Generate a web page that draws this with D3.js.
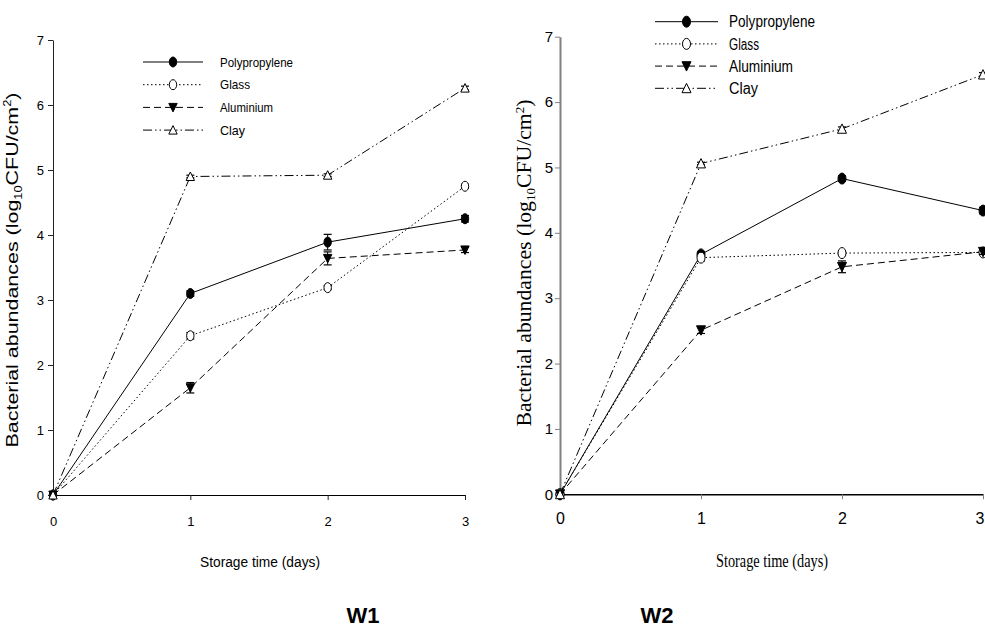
<!DOCTYPE html>
<html>
<head>
<meta charset="utf-8">
<script src="https://cdn.jsdelivr.net/npm/d3@7/dist/d3.min.js"></script>
<style>
  body { margin: 0; background: #fff; }
  svg { display: block; }
</style>
</head>
<body>
<script>
// chart data
var days = [0, 1, 2, 3];
var yTicks = [0, 1, 2, 3, 4, 5, 6, 7];
var materials = ["Polypropylene", "Glass", "Aluminium", "Clay"];

// W1 means and error bars
var w1Polypropylene = [0, 3.10, 3.89, 4.25];
var w1Glass         = [0, 2.45, 3.19, 4.75];
var w1Aluminium     = [0, 1.65, 3.64, 3.77];
var w1Clay          = [0, 4.90, 4.92, 6.26];
var w1PolypropyleneErr = [0, 0.04, 0.12, 0.05];
var w1GlassErr         = [0, 0.05, 0.03, 0.03];
var w1AluminiumErr     = [0, 0.08, 0.10, 0.04];
var w1ClayErr          = [0, 0.02, 0.02, 0.03];

// W2 means and error bars
var w2Polypropylene = [0, 3.67, 4.83, 4.34];
var w2Glass         = [0, 3.62, 3.69, 3.70];
var w2Aluminium     = [0, 2.51, 3.48, 3.71];
var w2Clay          = [0, 5.06, 5.59, 6.42];
var w2PolypropyleneErr = [0, 0.04, 0.04, 0.05];
var w2GlassErr         = [0, 0.05, 0.03, 0.03];
var w2AluminiumErr     = [0, 0.05, 0.09, 0.04];
var w2ClayErr          = [0, 0.02, 0.03, 0.03];

var width = 985, height = 628;

// line dash + marker per material
var style = {
  "Polypropylene": { dash: null,          marker: "circle",   fill: "#000" },
  "Glass":         { dash: "1.5,2.5",     marker: "circle",   fill: "#fff" },
  "Aluminium":     { dash: "7,4",         marker: "triDown",  fill: "#000" },
  "Clay":          { dash: "9,3,1.5,3,1.5,3", marker: "triUp", fill: "#fff" }
};

var sans = "'Liberation Sans', Arial, sans-serif";
var serif = "'Liberation Serif', 'Times New Roman', serif";

var svg = d3.select("body").append("svg")
    .attr("width", width)
    .attr("height", height)
    .style("font-family", sans);

function drawMarker(g, type, fill, cx, cy, rx, ry) {
  if (type == "circle") {
    g.append("ellipse")
      .attr("cx", cx).attr("cy", cy).attr("rx", rx).attr("ry", ry)
      .attr("fill", fill).attr("stroke", "#000").attr("stroke-width", 1);
  } else {
    var s = type == "triUp" ? -1 : 1;
    var p = "M" + (cx - rx - 0.5) + "," + (cy - s * ry * 0.8) +
            "L" + (cx + rx + 0.5) + "," + (cy - s * ry * 0.8) +
            "L" + cx + "," + (cy + s * ry * 0.9) + "Z";
    g.append("path").attr("d", p)
      .attr("fill", fill).attr("stroke", "#000").attr("stroke-width", 1);
  }
}

function drawPanel(cfg) {
  var x = d3.scaleLinear().domain([0, 3]).range(cfg.xRange);
  var y = d3.scaleLinear().domain([0, 7]).range(cfg.yRange);
  var g = svg.append("g").attr("class", cfg.name);

  // y axis
  var yAxis = g.append("g")
      .attr("transform", "translate(" + cfg.xRange[0] + ",0)")
      .call(d3.axisLeft(y).tickValues(yTicks).tickFormat(d3.format("d"))
        .tickSize(5).tickSizeOuter(0).tickPadding(cfg.yPad));
  yAxis.select(".domain").attr("stroke", cfg.yAxisColor).attr("stroke-width", cfg.yAxisWidth);
  yAxis.selectAll(".tick line").attr("stroke", cfg.yAxisColor);
  yAxis.selectAll("text")
      .style("font-family", sans)
      .attr("font-size", cfg.yTickSize)
      .attr("fill", "#000");

  // x axis
  var xAxis = g.append("g")
      .attr("transform", "translate(0," + cfg.yRange[0] + ")")
      .call(d3.axisBottom(x).tickValues(days).tickFormat(d3.format("d"))
        .tickSize(5).tickSizeOuter(0).tickPadding(cfg.xPad));
  xAxis.select(".domain").attr("stroke", "#000").attr("stroke-width", cfg.xAxisWidth);
  xAxis.selectAll(".tick line").attr("stroke", cfg.xTickColor);
  xAxis.selectAll("text")
      .style("font-family", sans)
      .attr("font-size", cfg.xTickSize)
      .attr("fill", "#000");
  // keep the last label inside the window
  xAxis.selectAll(".tick text").filter(function(d) { return x(d) > width - 6; })
      .attr("text-anchor", "end").attr("x", width - x(3) - 1);

  var line = d3.line()
      .x(function(d, i) { return x(days[i]); })
      .y(function(d) { return y(d); });

  materials.forEach(function(m) {
    var st = style[m];
    g.append("path")
      .datum(cfg.values[m])
      .attr("d", line)
      .attr("fill", "none")
      .attr("stroke", "#000")
      .attr("stroke-width", 1)
      .attr("stroke-dasharray", st.dash);
  });

  // error bars then markers
  materials.forEach(function(m) {
    var st = style[m];
    cfg.values[m].forEach(function(v, i) {
      var e = cfg.errors[m][i];
      if (e > 0) {
        var cx = x(days[i]);
        g.append("line").attr("x1", cx).attr("x2", cx)
          .attr("y1", y(v - e)).attr("y2", y(v + e))
          .attr("stroke", "#000").attr("stroke-width", 1);
        [v - e, v + e].forEach(function(b) {
          g.append("line").attr("x1", cx - 4).attr("x2", cx + 4)
            .attr("y1", y(b)).attr("y2", y(b))
            .attr("stroke", "#000").attr("stroke-width", 1.2);
        });
      }
      drawMarker(g, st.marker, st.fill, x(days[i]), y(v), cfg.mrx, cfg.mry);
    });
  });

  // legend
  var lg = g.append("g");
  materials.forEach(function(m, i) {
    var st = style[m];
    var ly = cfg.legend.y0 + i * cfg.legend.dy;
    lg.append("line")
      .attr("x1", cfg.legend.x0).attr("x2", cfg.legend.x1)
      .attr("y1", ly).attr("y2", ly)
      .attr("stroke", "#000").attr("stroke-width", 1)
      .attr("stroke-dasharray", st.dash);
    drawMarker(lg, st.marker, st.fill, (cfg.legend.x0 + cfg.legend.x1) / 2, ly, cfg.mrx, cfg.mry);
    lg.append("text")
      .attr("x", cfg.legend.tx).attr("y", ly)
      .attr("dy", "0.35em")
      .style("font-family", sans)
      .attr("font-size", cfg.legend.size)
      .attr("textLength", cfg.legend.lengths[i])
      .attr("lengthAdjust", "spacingAndGlyphs")
      .text(m);
  });

  // y title
  var yt = g.append("text")
      .attr("transform", "translate(" + cfg.yTitle.x + "," + cfg.yTitle.y + ") rotate(-90)")
      .attr("text-anchor", "middle")
      .style("font-family", cfg.yTitle.font)
      .attr("font-size", cfg.yTitle.size)
      .attr("textLength", cfg.yTitle.len)
      .attr("lengthAdjust", "spacingAndGlyphs");
  yt.append("tspan").text("Bacterial abundances (log");
  yt.append("tspan").attr("font-size", cfg.yTitle.size * 0.6).attr("dy", 4).text("10");
  yt.append("tspan").attr("dy", -4).text("CFU/cm");
  yt.append("tspan").attr("font-size", cfg.yTitle.size * 0.6).attr("dy", -7).text("2");
  yt.append("tspan").attr("dy", 7).text(")");

  // x title
  g.append("text")
    .attr("x", cfg.xTitle.x).attr("y", cfg.xTitle.y)
    .attr("text-anchor", "middle")
    .style("font-family", cfg.xTitle.font)
    .attr("font-size", cfg.xTitle.size)
    .attr("textLength", cfg.xTitle.len)
    .attr("lengthAdjust", "spacingAndGlyphs")
    .text("Storage time (days)");

  // panel tag
  g.append("text")
    .attr("x", cfg.tag.x).attr("y", cfg.tag.y)
    .attr("text-anchor", "middle")
    .style("font-family", sans)
    .attr("font-size", 22)
    .attr("font-weight", "bold")
    .text(cfg.name);
}

drawPanel({
  name: "W1",
  xRange: [53, 465], yRange: [495, 40],
  values: { "Polypropylene": w1Polypropylene, "Glass": w1Glass, "Aluminium": w1Aluminium, "Clay": w1Clay },
  errors: { "Polypropylene": w1PolypropyleneErr, "Glass": w1GlassErr, "Aluminium": w1AluminiumErr, "Clay": w1ClayErr },
  yTickSize: 13, xTickSize: 13, yPad: 4, xPad: 17,
  yAxisColor: "#222", yAxisWidth: 1, xAxisWidth: 1, xTickColor: "#222",
  mrx: 3.7, mry: 5,
  legend: { x0: 143, x1: 203, tx: 220, y0: 62, dy: 22.7, size: 13, lengths: [73, 30, 53, 25] },
  yTitle: { x: 18, y: 270, font: sans, size: 17, len: 355 },
  xTitle: { x: 260, y: 567, font: sans, size: 14, len: 120 },
  tag: { x: 363, y: 623 }
});

drawPanel({
  name: "W2",
  xRange: [560, 983], yRange: [494.3, 36.7],
  values: { "Polypropylene": w2Polypropylene, "Glass": w2Glass, "Aluminium": w2Aluminium, "Clay": w2Clay },
  errors: { "Polypropylene": w2PolypropyleneErr, "Glass": w2GlassErr, "Aluminium": w2AluminiumErr, "Clay": w2ClayErr },
  yTickSize: 15, xTickSize: 16, yPad: 2, xPad: 13,
  yAxisColor: "#808080", yAxisWidth: 2, xAxisWidth: 1.5, xTickColor: "#808080",
  mrx: 4, mry: 5.5,
  legend: { x0: 655, x1: 718, tx: 729, y0: 21.7, dy: 22.2, size: 16, lengths: [86, 30, 64, 29] },
  yTitle: { x: 531, y: 263, font: serif, size: 20, len: 327 },
  xTitle: { x: 772, y: 567, font: serif, size: 18, len: 112 },
  tag: { x: 657, y: 623 }
});
</script>
</body>
</html>
